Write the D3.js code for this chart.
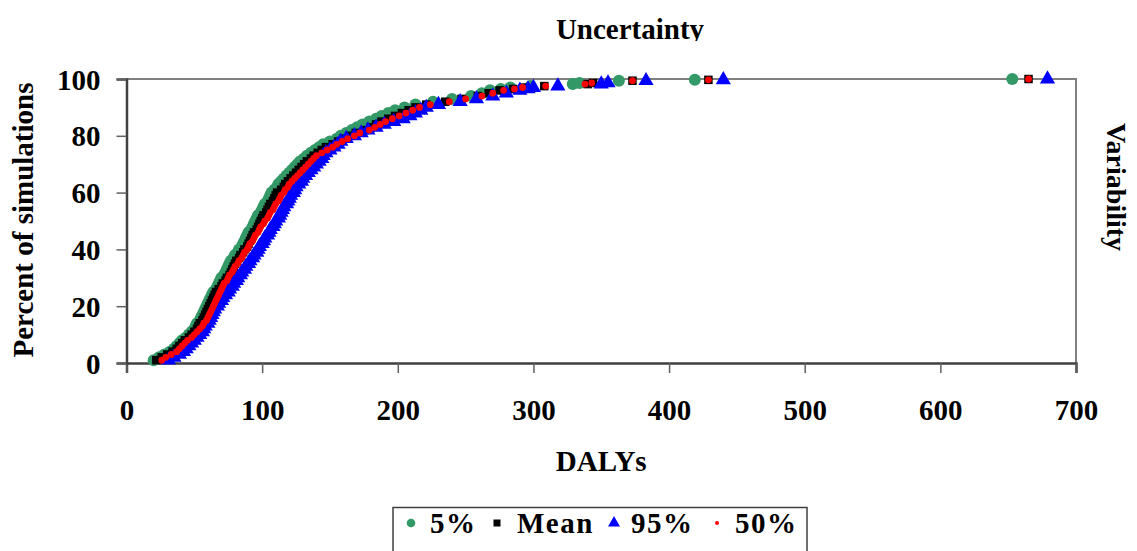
<!DOCTYPE html>
<html>
<head>
<meta charset="utf-8">
<script src="https://cdn.jsdelivr.net/npm/d3@7"></script>
<style>
  html, body { margin: 0; padding: 0; background: #fff; }
  svg { display: block; }
  text { font-family: "Liberation Serif", "Times New Roman", serif; font-weight: bold; fill: #000; }
</style>
</head>
<body>
<svg id="chart" width="1137" height="551"></svg>
<script>
// ---------------- DATA ----------------
const percentRanks = [
  1,2,3,4,5,6,7,8,9,10,11,12,13,14,15,16,17,18,19,20,
  21,22,23,24,25,26,27,28,29,30,31,32,33,34,35,36,37,38,39,40,
  41,42,43,44,45,46,47,48,49,50,51,52,53,54,55,56,57,58,59,60,
  61,62,63,64,65,66,67,68,69,70,71,72,73,74,75,76,77,78,79,80,
  81,82,83,84,85,86,87,88,89,90,91,92,93,94,95,96,
  96.5,97,97.5,98.2,98.6,99.4,99.7,100
];
const p5 = [
  20,24,28,32,35,37,39,41,44,46,48,50,51,52,54,55,56,57,58,59,
  60,61,62,63,64,66,67,68,69,70,72,73,74,75,76,77,79,80,82,83,
  85,86,87,88,89,90,92,93,94,95,96,97,99,100,101,102,104,105,106,107,
  109,111,112,114,116,118,120,122,124,126,128,131,133,136,139,142,145,150,155,158,
  162,166,170,174,179,184,188,193,198,205,213,226,240,254,262,268,
  276,283,298,329,334,363,419,653
];
const pMean = [
  22,26,30,34,37,39,41,43,46,48,50,52,53,54,56,57,58,59,60,61,
  62,63,64,65,66,68,70,71,73,74,76,77,78,79,80,81,83,84,86,87,
  89,90,91,92,93,94,96,97,98,99,100,101,103,104,105,106,108,109,110,111,
  114,116,117,119,121,123,125,127,129,131,133,136,138,141,144,147,152,156,160,165,
  169,176,180,184,188,193,198,203,208,213,221,235,247,259,267,275,
  285,293,308,340,344,373,429,665
];
const p95 = [
  31,35,39,42,44,46,48,50,52,54,56,57,58,60,61,62,63,64,65,67,
  68,70,71,73,75,76,78,79,81,82,84,85,87,88,90,91,93,94,96,97,
  98,100,101,102,104,105,106,108,109,110,112,113,114,115,116,118,119,120,121,123,
  124,125,127,129,130,132,134,136,138,140,142,144,145,147,150,153,156,158,162,168,
  173,178,184,190,197,204,209,213,217,221,230,246,258,270,280,290,
  296,300,318,350,355,383,440,679
];
const p50 = [
  26,29,33,37,39,41,43,45,48,50,52,54,56,57,59,60,61,62,63,64,
  65,66,67,68,69,70,71,72,74,75,76,78,79,80,82,83,85,86,87,89,
  90,91,93,94,95,97,98,99,101,102,104,105,106,108,109,110,112,113,114,116,
  117,119,120,122,124,126,128,130,132,134,136,138,140,144,148,152,155,159,163,168,
  172,179,183,187,191,196,201,206,211,216,224,238,250,262,270,278,
  286,292,309,338,343,373,429,665
];
const xTicks = [0,100,200,300,400,500,600,700];
const yTicks = [0,20,40,60,80,100];
const seriesNames = ["5%","Mean","95%","50%"];
const seriesColors = ["#339966","#000000","#0000FF","#FF0000"];
const seriesShapes = ["circle","square","triangle","dot"];
const seriesValues = [p5, pMean, p95, p50];
const chartTitle = "Uncertainty";
const xTitle = "DALYs";
const yTitle = "Percent of simulations";
const rightTitle = "Variability";

// ---------------- LAYOUT ----------------
const svg = d3.select("#chart");
const pL = 126.5, pR = 1076, pT = 79, pB = 363;
const x = d3.scaleLinear().domain([0,700]).range([pL,pR]);
const y = d3.scaleLinear().domain([0,100]).range([pB,pT]);
const FS = 29;

// frame (top & right, gray)
svg.append("path")
  .attr("d", `M${pL},${pT}H${pR}V${pB}`)
  .attr("fill","none").attr("stroke","#808080").attr("stroke-width",2);

// axes
const xAxis = svg.append("g").attr("transform",`translate(0,${pB})`)
  .call(d3.axisBottom(x).tickValues(xTicks).tickSize(10).tickPadding(26).tickFormat(d3.format("d")));
const yAxis = svg.append("g").attr("transform",`translate(${pL},0)`)
  .call(d3.axisLeft(y).tickValues(yTicks).tickSize(10).tickPadding(16).tickFormat(d3.format("d")));
[xAxis,yAxis].forEach(g=>{
  g.select(".domain").attr("stroke","#404040").attr("stroke-width",2.5);
  g.selectAll(".tick line").attr("stroke","#606060").attr("stroke-width",1.5);
  g.selectAll(".tick text").style("font-family","'Liberation Serif', serif")
    .style("font-weight","bold").style("font-size",FS+"px").attr("fill","#000");
});
yAxis.selectAll(".tick text").attr("dy","0.35em");

// markers
const sym = {
  circle: d3.symbol().type(d3.symbolCircle).size(Math.PI*6*6),
  square: d3.symbol().type(d3.symbolSquare).size(8.5*8.5),
  triangle: d3.symbol().type(d3.symbolTriangle).size(100),
  dot: d3.symbol().type(d3.symbolCircle).size(Math.PI*3.4*3.4)
};
const legendSym = {
  circle: d3.symbol().type(d3.symbolCircle).size(Math.PI*4.3*4.3),
  square: d3.symbol().type(d3.symbolSquare).size(7*7),
  triangle: d3.symbol().type(d3.symbolTriangle).size(62),
  dot: d3.symbol().type(d3.symbolCircle).size(Math.PI*2*2)
};

seriesValues.forEach((vals, si) => {
  const pts = vals.map((v,i)=>({v, p: percentRanks[i]}));
  svg.append("g").selectAll("path").data(pts).join("path")
    .attr("d", sym[seriesShapes[si]]())
    .attr("transform", d => `translate(${x(d.v)},${y(d.p)})`)
    .attr("fill", seriesColors[si]);
});

// titles
svg.append("defs").append("clipPath").attr("id","titleClip")
  .append("rect").attr("x",0).attr("y",0).attr("width",1137).attr("height",41);
svg.append("text").attr("x",630).attr("y",39).attr("text-anchor","middle")
  .attr("clip-path","url(#titleClip)")
  .style("font-size",FS+"px").text(chartTitle);
svg.append("text").attr("x",(pL+pR)/2).attr("y",471).attr("text-anchor","middle")
  .style("font-size",FS+"px").text(xTitle);
svg.append("text").attr("transform",`translate(33,220) rotate(-90)`).attr("text-anchor","middle")
  .style("font-size",FS+"px").text(yTitle);
svg.append("text").attr("transform",`translate(1107,187) rotate(90)`).attr("text-anchor","middle")
  .style("font-size","28px").text(rightTitle);

// legend
const lg = svg.append("g");
lg.append("rect").attr("x",393).attr("y",507.5).attr("width",414).attr("height",60)
  .attr("fill","#fff").attr("stroke","#404040").attr("stroke-width",1.5);
const legendMarkX = [411, 497, 614, 717];
const legendTextX = [430, 517, 631, 735];
seriesNames.forEach((name, si) => {
  lg.append("path").attr("d", legendSym[seriesShapes[si]]())
    .attr("transform",`translate(${legendMarkX[si]},${523})`)
    .attr("fill", seriesColors[si]);
  lg.append("text").attr("x",legendTextX[si]).attr("y",533)
    .style("font-size",FS+"px").style("letter-spacing","1.5px").text(name);
});
</script>
</body>
</html>
